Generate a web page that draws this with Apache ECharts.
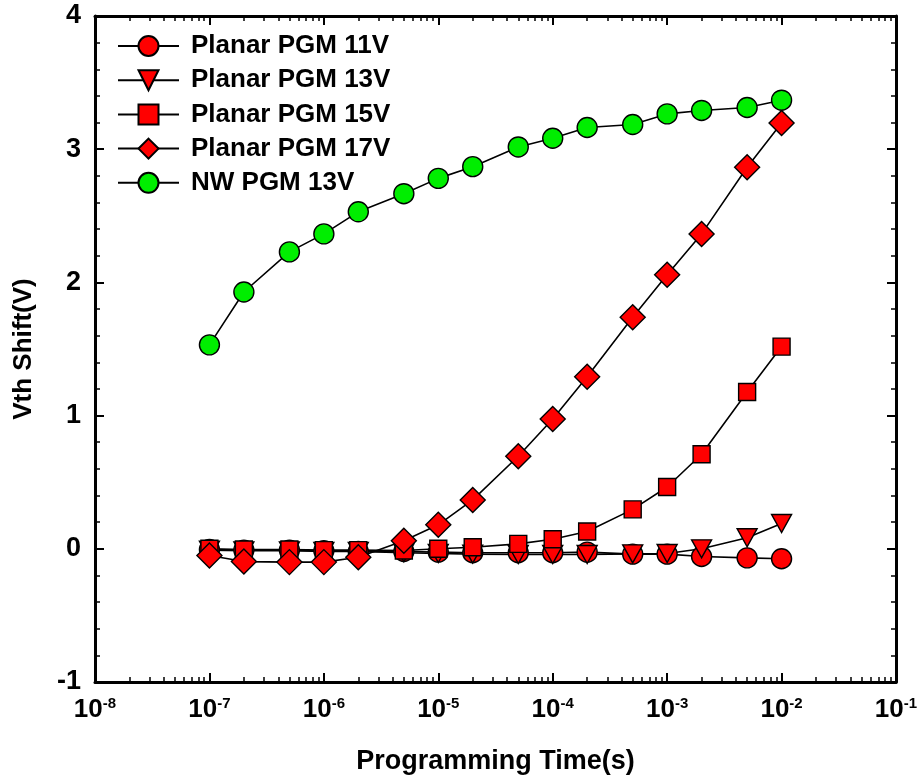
<!DOCTYPE html>
<html>
<head>
<meta charset="utf-8">
<title>Vth Shift vs Programming Time</title>
<script src="https://cdn.jsdelivr.net/npm/echarts@6/dist/echarts.min.js"></script>
<style>
  html, body { margin: 0; padding: 0; background: #fff; }
  #chart { width: 920px; height: 783px; }
</style>
</head>
<body>
<div id="chart"></div>
<script>
// Programming pulse widths (s)
const times = [1e-7, 2e-7, 5e-7, 1e-6, 2e-6, 5e-6, 1e-5, 2e-5, 5e-5, 1e-4, 2e-4, 5e-4, 1e-3, 2e-3, 5e-3, 1e-2];

// Threshold voltage shift (V) for each device / programming voltage
const planar11V = [-0.005, -0.01, -0.01, -0.015, -0.02, -0.02, -0.025, -0.03, -0.03, -0.03, -0.025, -0.04, -0.04, -0.058, -0.068, -0.075];
const planar13V = [-0.01, -0.015, -0.015, -0.02, -0.02, -0.03, -0.035, -0.04, -0.043, -0.043, -0.043, -0.038, -0.035, 0.0, 0.083, 0.19];
const planar15V = [0.0, -0.005, -0.005, -0.01, -0.01, -0.013, 0.0, 0.012, 0.037, 0.072, 0.13, 0.296, 0.464, 0.71, 1.177, 1.518];
const planar17V = [-0.05, -0.096, -0.1, -0.1, -0.063, 0.06, 0.18, 0.367, 0.695, 0.974, 1.292, 1.739, 2.058, 2.364, 2.864, 3.197];
const nw13V = [1.531, 1.928, 2.229, 2.364, 2.53, 2.666, 2.781, 2.869, 3.017, 3.082, 3.163, 3.185, 3.265, 3.291, 3.313, 3.368];

const seriesNames = ['Planar PGM 11V', 'Planar PGM 13V', 'Planar PGM 15V', 'Planar PGM 17V', 'NW PGM 13V'];

// Axis ranges
const xMin = 1e-8, xMax = 1e-1;
const yMin = -1, yMax = 4, yStep = 1;

// Log minor tick positions (2..9 within each decade)
const minorX = [];
for (let e = -8; e < -1; e++) {
  for (let m = 2; m <= 9; m++) minorX.push(m * Math.pow(10, e));
}

const FONT = '"Liberation Sans", Arial, sans-serif';
const BLACK = '#000';

function pairs(vals) { return times.map((t, i) => [t, vals[i]]); }

function makeSeries(name, vals, symbol, size, color, rotate) {
  return {
    name: name,
    type: 'line',
    data: pairs(vals),
    symbol: symbol,
    symbolSize: size,
    symbolRotate: rotate || 0,
    showAllSymbol: true,
    xAxisIndex: 0,
    yAxisIndex: 0,
    lineStyle: { color: BLACK, width: 1.6 },
    itemStyle: { color: color, borderColor: BLACK, borderWidth: 1.4 },
    emphasis: { disabled: true },
    animation: false
  };
}

const xBase = {
  type: 'log',
  min: xMin,
  max: xMax,
  logBase: 10,
  gridIndex: 0,
  splitLine: { show: false },
  minorTick: { show: false },
  minorSplitLine: { show: false }
};

const frameLine = { show: true, onZero: false, lineStyle: { color: BLACK, width: 3 } };
const hiddenLine = { show: false, onZero: false };

const chart = echarts.init(document.getElementById('chart'), null, { renderer: 'canvas' });

chart.setOption({
  backgroundColor: '#fff',
  animation: false,
  grid: {
    left: 95, right: 24, top: 16, bottom: 101,
    containLabel: false,
    outerBoundsMode: 'none'
  },
  legend: {
    orient: 'vertical',
    left: 112,
    top: 28,
    itemWidth: 61,
    itemHeight: 25,
    itemGap: 8.2,
    data: seriesNames,
    textStyle: {
      fontFamily: FONT, fontSize: 26, fontWeight: 'bold', color: BLACK,
      lineHeight: 25,
      padding: [0, 0, 0, 7]
    },
    selectedMode: false
  },
  xAxis: [
    Object.assign({}, xBase, {
      position: 'bottom',
      name: 'Programming Time(s)',
      nameLocation: 'middle',
      nameGap: 66,
      nameTextStyle: { fontFamily: FONT, fontSize: 27, fontWeight: 'bold', color: BLACK },
      axisLine: frameLine,
      axisTick: { show: true, inside: true, length: 9, lineStyle: { color: BLACK, width: 2 } },
      axisLabel: {
        show: true,
        margin: 14,
        formatter: function (v) {
          const e = Math.round(Math.log10(v));
          return '{b|10}{s|' + e + '}';
        },
        rich: {
          b: { fontFamily: FONT, fontSize: 26, fontWeight: 'bold', color: BLACK },
          s: { fontFamily: FONT, fontSize: 15, fontWeight: 'bold', color: BLACK, verticalAlign: 'top', padding: [0, 0, 12, 0] }
        }
      }
    }),
    Object.assign({}, xBase, {
      position: 'bottom',
      axisLine: hiddenLine,
      axisLabel: { show: false },
      axisTick: { show: true, inside: true, length: 5, customValues: minorX, lineStyle: { color: BLACK, width: 1.5 } }
    }),
    Object.assign({}, xBase, {
      position: 'top',
      axisLine: frameLine,
      axisLabel: { show: false },
      axisTick: { show: true, inside: true, length: 9, lineStyle: { color: BLACK, width: 2 } }
    }),
    Object.assign({}, xBase, {
      position: 'top',
      axisLine: hiddenLine,
      axisLabel: { show: false },
      axisTick: { show: true, inside: true, length: 5, customValues: minorX, lineStyle: { color: BLACK, width: 1.5 } }
    })
  ],
  yAxis: [
    {
      type: 'value',
      position: 'left',
      min: yMin, max: yMax, interval: yStep,
      name: 'Vth Shift(V)',
      nameLocation: 'middle',
      nameGap: 58,
      nameTextStyle: { fontFamily: FONT, fontSize: 26, fontWeight: 'bold', color: BLACK },
      splitLine: { show: false },
      axisLine: frameLine,
      axisTick: { show: true, inside: true, length: 9, lineStyle: { color: BLACK, width: 2 } },
      minorTick: { show: true, splitNumber: 5, length: 5, lineStyle: { color: BLACK, width: 1.5 } },
      axisLabel: { margin: 14, fontFamily: FONT, fontSize: 27, fontWeight: 'bold', color: BLACK }
    },
    {
      type: 'value',
      position: 'right',
      min: yMin, max: yMax, interval: yStep,
      splitLine: { show: false },
      axisLine: frameLine,
      axisTick: { show: true, inside: true, length: 9, lineStyle: { color: BLACK, width: 2 } },
      minorTick: { show: true, splitNumber: 5, length: 5, lineStyle: { color: BLACK, width: 1.5 } },
      axisLabel: { show: false }
    }
  ],
  series: [
    makeSeries(seriesNames[0], planar11V, 'circle', 20, '#ff0000'),
    makeSeries(seriesNames[1], planar13V, 'triangle', [20, 18], '#ff0000', 180),
    makeSeries(seriesNames[2], planar15V, 'rect', 17, '#ff0000'),
    makeSeries(seriesNames[3], planar17V, 'diamond', 25, '#ff0000'),
    makeSeries(seriesNames[4], nw13V, 'circle', 20, '#00ee00')
  ]
});
</script>
</body>
</html>
